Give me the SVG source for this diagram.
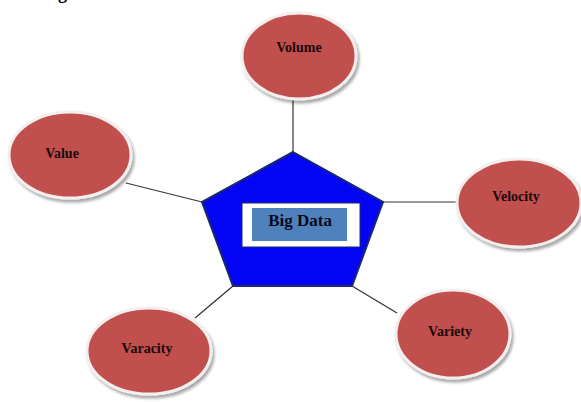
<svg xmlns="http://www.w3.org/2000/svg" width="581" height="402" viewBox="0 0 581 402">
<defs>
<filter id="sh" x="-20%" y="-20%" width="140%" height="140%">
<feGaussianBlur in="SourceAlpha" stdDeviation="1.5"/>
<feOffset dx="2" dy="3" result="o"/>
<feComponentTransfer><feFuncA type="linear" slope="0.35"/></feComponentTransfer>
<feMerge><feMergeNode/><feMergeNode in="SourceGraphic"/></feMerge>
</filter>
</defs>
<style>
.bub{fill:#c0504d;stroke:#f4eeee;stroke-width:3;filter:url(#sh)}
.lbl{font-family:"Liberation Serif","Times New Roman",serif;font-weight:bold;font-size:14px;fill:#1c0a0a;text-anchor:middle}
.con{stroke:#333;stroke-width:1.2;fill:none}
</style>
<rect width="581" height="402" fill="#fff"/>
<text x="58" y="-1" font-family="Liberation Serif, serif" font-weight="bold" font-size="18" fill="#000">g</text>
<g id="connectors">
<line class="con" x1="293" y1="99" x2="293" y2="152"/>
<line class="con" x1="126" y1="183" x2="202" y2="202"/>
<line class="con" x1="383" y1="202" x2="457" y2="202"/>
<line class="con" x1="352" y1="286" x2="397" y2="313"/>
<line class="con" x1="233" y1="286" x2="195" y2="318"/>
</g>
<g id="bigdata">
<polygon points="293,152 383,202 352,286 233,286 202,202" fill="#0505f5" stroke="#1a2a6a" stroke-width="2"/>
<rect x="242" y="203" width="118" height="44" fill="#fff" stroke="#1a2a6a" stroke-width="1"/>
<rect x="252" y="208" width="95" height="33" fill="#4f81bd"/>
<text x="300" y="226" font-family="Liberation Serif, serif" font-weight="bold" font-size="17" fill="#0a0a20" text-anchor="middle">Big Data</text>
</g>
<g id="volume">
<ellipse class="bub" cx="299" cy="56" rx="57" ry="43"/>
<text class="lbl" x="299" y="52">Volume</text>
</g>
<g id="value">
<ellipse class="bub" cx="70" cy="155" rx="61" ry="43"/>
<text class="lbl" x="62" y="158">Value</text>
</g>
<g id="velocity">
<ellipse class="bub" cx="519" cy="203" rx="62" ry="44"/>
<text class="lbl" x="516" y="201">Velocity</text>
</g>
<g id="variety">
<ellipse class="bub" cx="453" cy="334" rx="57" ry="44"/>
<text class="lbl" x="450" y="336">Variety</text>
</g>
<g id="varacity">
<ellipse class="bub" cx="149" cy="351" rx="62" ry="43"/>
<text class="lbl" x="147" y="353">Varacity</text>
</g>
</svg>
